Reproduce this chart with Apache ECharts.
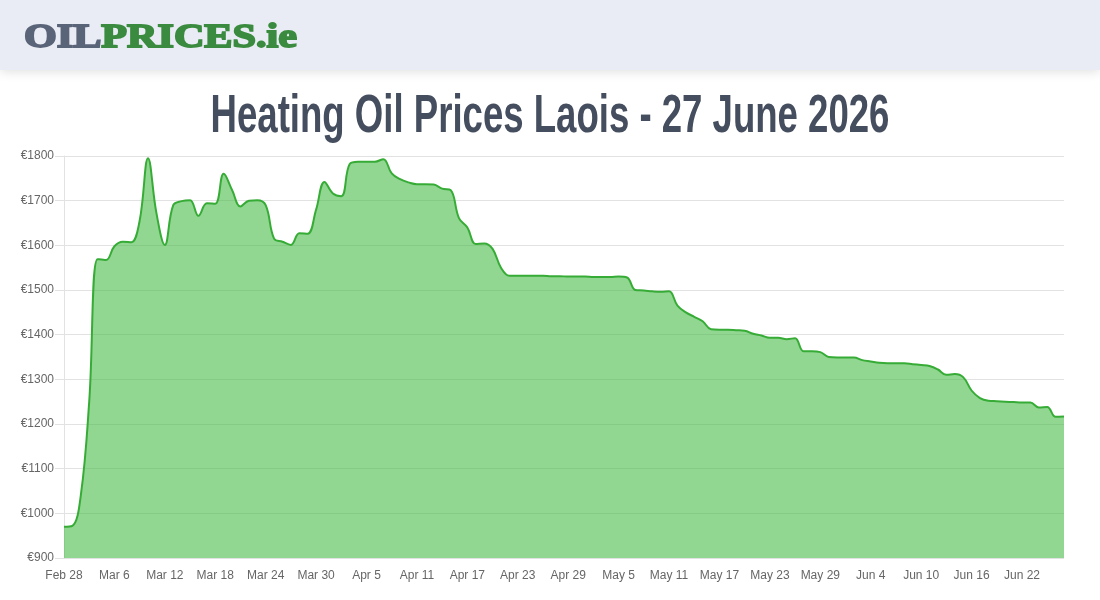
<!DOCTYPE html>
<html>
<head>
<meta charset="utf-8">
<script src="https://cdn.jsdelivr.net/npm/echarts@6/dist/echarts.min.js"></script>
<style>
    html, body { margin: 0; padding: 0; background: #fff; }
    #main { width: 1100px; height: 600px; }
</style>
</head>
<body>
<div id="main"></div>
<script>
'use strict';

// one label per day, Feb 28 to Jun 27
var dates = [
    'Feb 28',
    'Mar 1', 'Mar 2', 'Mar 3', 'Mar 4', 'Mar 5', 'Mar 6', 'Mar 7', 'Mar 8', 'Mar 9', 'Mar 10',
    'Mar 11', 'Mar 12', 'Mar 13', 'Mar 14', 'Mar 15', 'Mar 16', 'Mar 17', 'Mar 18', 'Mar 19', 'Mar 20',
    'Mar 21', 'Mar 22', 'Mar 23', 'Mar 24', 'Mar 25', 'Mar 26', 'Mar 27', 'Mar 28', 'Mar 29', 'Mar 30', 'Mar 31',
    'Apr 1', 'Apr 2', 'Apr 3', 'Apr 4', 'Apr 5', 'Apr 6', 'Apr 7', 'Apr 8', 'Apr 9', 'Apr 10',
    'Apr 11', 'Apr 12', 'Apr 13', 'Apr 14', 'Apr 15', 'Apr 16', 'Apr 17', 'Apr 18', 'Apr 19', 'Apr 20',
    'Apr 21', 'Apr 22', 'Apr 23', 'Apr 24', 'Apr 25', 'Apr 26', 'Apr 27', 'Apr 28', 'Apr 29', 'Apr 30',
    'May 1', 'May 2', 'May 3', 'May 4', 'May 5', 'May 6', 'May 7', 'May 8', 'May 9', 'May 10',
    'May 11', 'May 12', 'May 13', 'May 14', 'May 15', 'May 16', 'May 17', 'May 18', 'May 19', 'May 20',
    'May 21', 'May 22', 'May 23', 'May 24', 'May 25', 'May 26', 'May 27', 'May 28', 'May 29', 'May 30', 'May 31',
    'Jun 1', 'Jun 2', 'Jun 3', 'Jun 4', 'Jun 5', 'Jun 6', 'Jun 7', 'Jun 8', 'Jun 9', 'Jun 10',
    'Jun 11', 'Jun 12', 'Jun 13', 'Jun 14', 'Jun 15', 'Jun 16', 'Jun 17', 'Jun 18', 'Jun 19', 'Jun 20',
    'Jun 21', 'Jun 22', 'Jun 23', 'Jun 24', 'Jun 25', 'Jun 26', 'Jun 27'
];

// price in euro
var prices = [
    970,
    972, 1040, 1250, 1569, 1567, 1598, 1608, 1607, 1655, 1795,
    1672, 1601, 1690, 1699, 1701, 1666, 1694, 1693, 1760, 1724,
    1687, 1700, 1701, 1690, 1615, 1608, 1601, 1627, 1626, 1680, 1742,
    1716, 1710, 1782, 1787, 1787, 1787, 1793, 1761, 1748, 1741,
    1737, 1737, 1736, 1727, 1724, 1661, 1640, 1603, 1604, 1592,
    1550, 1532, 1532, 1532, 1532, 1532, 1531, 1531, 1530, 1530,
    1530, 1529, 1529, 1529, 1530, 1528, 1500, 1499, 1497, 1496,
    1497, 1465, 1450, 1440, 1430, 1412, 1411, 1411, 1410, 1409,
    1402, 1398, 1393, 1393, 1390, 1392, 1363, 1363, 1361, 1350, 1349,
    1349, 1349, 1343, 1340, 1337, 1336, 1336, 1336, 1334, 1332,
    1330, 1322, 1310, 1312, 1305, 1275, 1258, 1252, 1251, 1250,
    1249, 1248, 1248, 1237, 1238, 1216, 1217
];

var yMin = 900;
var yMax = 1800;
var yStep = 100;

var pageTitle = 'Heating Oil Prices Laois - 27 June 2026';

var myChart = echarts.init(document.getElementById('main'));
var option = {
    animation: false,
    backgroundColor: '#fff',
    graphic: [{
        type: 'rect',
        shape: { x: 0, y: 0, width: 1100, height: 70 },
        style: {
            fill: '#e9ecf4',
            shadowBlur: 10,
            shadowOffsetY: 2,
            shadowColor: 'rgba(0,0,0,0.12)'
        },
        z: 10
    }, {
        type: 'text',
        x: 24,
        y: 21,
        scaleX: 1.24,
        z: 11,
        style: {
            text: '{a|OIL}{b|PRICES.ie}',
            rich: {
                a: { fontFamily: 'Liberation Serif', fontWeight: 'bold', fontSize: 34, fill: '#5a6479', stroke: '#5a6479', lineWidth: 1.8 },
                b: { fontFamily: 'Liberation Serif', fontWeight: 'bold', fontSize: 34, fill: '#3a8b3f', stroke: '#3a8b3f', lineWidth: 1.8 }
            }
        }
    }, {
        type: 'text',
        x: 550,
        y: 91,
        scaleX: 0.69,
        z: 11,
        style: {
            text: pageTitle,
            fontFamily: 'Liberation Sans',
            fontWeight: 'bold',
            fontSize: 53,
            fill: '#454e5e',
            align: 'center',
            verticalAlign: 'top'
        }
    }],
    grid: {
        left: 64,
        right: 36,
        top: 156,
        bottom: 42
    },
    xAxis: {
        type: 'category',
        data: dates,
        boundaryGap: false,
        axisLine: { show: false },
        axisTick: { show: false },
        axisLabel: {
            interval: 5,
            color: '#666',
            fontFamily: 'Liberation Sans',
            fontSize: 12,
            margin: 12
        },
        splitLine: { show: false }
    },
    yAxis: {
        type: 'value',
        min: yMin,
        max: yMax,
        interval: yStep,
        axisLine: { show: true, lineStyle: { color: '#e2e2e2' } },
        axisTick: { show: true, length: 9, lineStyle: { color: '#e2e2e2' } },
        axisLabel: {
            color: '#666',
            fontFamily: 'Liberation Sans',
            fontSize: 12,
            margin: 10,
            formatter: function(v) {
                return '€' + v;
            }
        },
        splitLine: { show: true, lineStyle: { color: '#e2e2e2' } }
    },
    series: [{
        name: 'Price',
        type: 'line',
        data: prices,
        smooth: 0.4,
        symbol: 'none',
        lineStyle: { color: '#36ac36', width: 2 },
        areaStyle: { color: 'rgba(72,186,72,0.6)', opacity: 1, origin: 'start' },
        z: 2
    }]
};
myChart.setOption(option);
</script>
</body>
</html>
